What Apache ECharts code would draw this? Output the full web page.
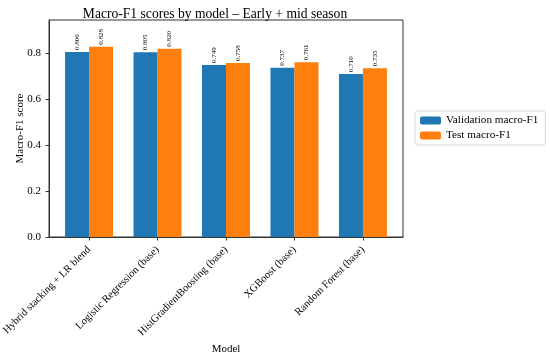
<!DOCTYPE html>
<html>
<head>
<meta charset="utf-8">
<script src="https://cdn.jsdelivr.net/npm/echarts@6/dist/echarts.min.js"></script>
<style>html,body{margin:0;padding:0;background:#fff}#c{width:550px;height:355px}</style>
</head>
<body>
<div id="c"></div>
<script>
const categories = ["Hybrid stacking + LR blend", "Logistic Regression (base)", "HistGradientBoosting (base)", "XGBoost (base)", "Random Forest (base)"];
const validationF1 = [0.806, 0.805, 0.749, 0.737, 0.710];
const testF1 = [0.828, 0.820, 0.758, 0.761, 0.735];
const yTicks = [0, 0.2, 0.4, 0.6, 0.8];

const FONT = "Liberation Serif";
const chart = echarts.init(document.getElementById('c'), null, {renderer: 'canvas'});
const idx = categories.map((_, i) => i);
const lbl = {
  show: true, position: 'top', rotate: 90, align: 'left', verticalAlign: 'middle',
  distance: 2, fontFamily: FONT, fontSize: 7, color: '#000',
  formatter: p => p.value[1].toFixed(3)
};
chart.setOption({
  animation: false,
  textStyle: {fontFamily: FONT},
  title: {
    text: 'Macro-F1 scores by model \u2013 Early + mid season',
    left: 210, textAlign: 'center', top: 2,
    textStyle: {fontFamily: FONT, fontSize: 13.6, fontWeight: 'normal', color: '#000'}
  },
  legend: {
    orient: 'vertical', left: 415, top: 111,
    itemWidth: 21, itemHeight: 8, itemGap: 4,
    padding: [4, 7, 4, 5],
    borderColor: '#d8d8d8', borderWidth: 1, borderRadius: 2,
    textStyle: {fontFamily: FONT, fontSize: 11.2, color: '#000'},
    data: ['Validation macro-F1', 'Test macro-F1']
  },
  grid: {left: 49, right: 147, top: 20, bottom: 118, outerBoundsMode: 'none', containLabel: false,
    show: true, borderColor: '#333', borderWidth: 1, backgroundColor: 'transparent'},
  xAxis: {
    type: 'value', min: -0.585, max: 4.585,
    name: 'Model', nameLocation: 'middle', nameGap: 107, nameMoveOverlap: false,
    nameTextStyle: {fontFamily: FONT, fontSize: 11, color: '#000'},
    axisLine: {show: true, onZero: false, lineStyle: {color: '#333'}},
    axisTick: {show: true, customValues: idx, length: 3.5, lineStyle: {color: '#333'}},
    axisLabel: {customValues: idx, rotate: 45, fontFamily: FONT, fontSize: 10.6, color: '#000', margin: 11,
      formatter: v => categories[Math.round(v)] || ''},
    splitLine: {show: false}
  },
  yAxis: {
    type: 'value', min: 0, max: 0.945, interval: 0.2,
    name: 'Macro-F1 score', nameLocation: 'middle', nameGap: 23, nameMoveOverlap: false,
    nameTextStyle: {fontFamily: FONT, fontSize: 11, color: '#000'},
    axisLine: {show: true, onZero: false, lineStyle: {color: '#333'}},
    axisTick: {show: true, length: 3.5, lineStyle: {color: '#333'}},
    axisLabel: {fontFamily: FONT, fontSize: 11, color: '#000', margin: 8, showMaxLabel: false,
      formatter: v => (yTicks.some(t => Math.abs(t - v) < 1e-9) ? v.toFixed(1) : '')},
    splitLine: {show: false}
  },
  series: [
    {name: 'Validation macro-F1', type: 'bar', barWidth: 24, barGap: '0%',
     itemStyle: {color: '#1f77b4'}, label: lbl,
     data: validationF1.map((v, i) => [i, v])},
    {name: 'Test macro-F1', type: 'bar', barWidth: 24, barGap: '0%',
     itemStyle: {color: '#ff7f0e'}, label: lbl,
     data: testF1.map((v, i) => [i, v])}
  ]
});
</script>
</body>
</html>
